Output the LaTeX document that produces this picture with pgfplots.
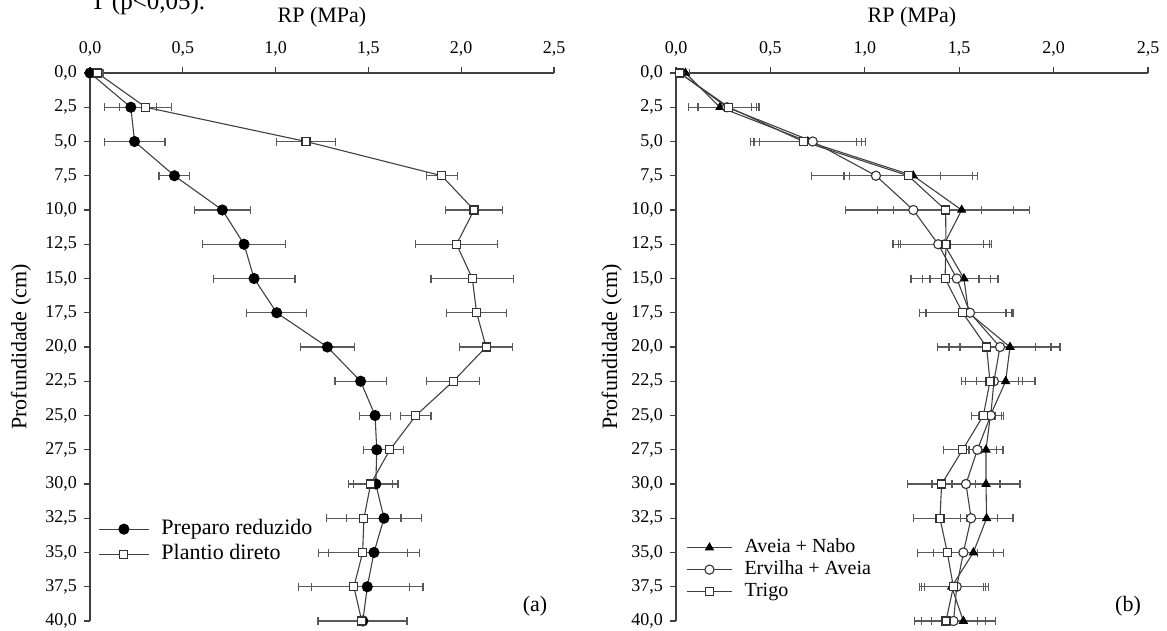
\documentclass[border=0pt]{standalone}
\usepackage{fontspec}
\setmainfont{Liberation Serif}
\usepackage{pgfplots}
\pgfplotsset{compat=1.18}

\pgfplotsset{
  rpaxis/.style={
    scale only axis, height=274pt,
    axis x line=top, axis y line=left,
    axis line style={-, black!75, line width=0.7pt},
    xmin=0, xmax=2.5, ymin=0, ymax=40, y dir=reverse,
    xtick={0,0.5,1,1.5,2,2.5},
    ytick={0,2.5,5,7.5,10,12.5,15,17.5,20,22.5,25,27.5,30,32.5,35,37.5,40},
    tick align=outside, major tick length=3pt,
    tick style={black!75, line width=0.6pt},
    /pgf/number format/.cd, fixed, fixed zerofill, precision=1, use comma, assume math mode=true,
    /pgfplots/.cd,
    tick label style={font=\fontsize{9}{10}\selectfont},
    xticklabel style={yshift=2pt},
    xlabel={RP (MPa)}, ylabel={Profundidade (cm)},
    label style={font=\fontsize{11}{12}\selectfont},
    xlabel style={at={(axis description cs:0.5,1)}, anchor=center, yshift=28pt},
    clip=false,
    legend cell align=left,
    legend image code/.code={\draw[mark repeat=2,mark phase=2,#1] plot coordinates {(0pt,0pt)(12.5pt,0pt)(25pt,0pt)};},
  },
  serie/.style={black!75, line width=0.55pt,
    error bars/.cd, x dir=both, x explicit,
    error bar style={black!65, line width=0.6pt},
    error mark options={rotate=90, black!65, mark size=2pt, line width=0.6pt},
    /pgfplots/.cd},
}

\begin{document}
\begin{tikzpicture}

% (a) sistemas de preparo
\begin{axis}[rpaxis, at={(45pt,5pt)}, anchor=south west, width=232pt,
  ylabel style={at={(axis description cs:-0.149,0.5)}, anchor=center},
  legend style={at={(axis cs:0.043,32.5)}, anchor=north west, draw=none, fill=none,
    inner sep=0pt, row sep=2pt, column sep=6pt,
    nodes={inner sep=0pt, text height=8pt, text depth=2.5pt, font=\fontsize{11}{12}\selectfont}},
]
\addplot[serie, mark=*, mark options={solid, fill=black, draw=black, mark size=2.5pt}]
  coordinates {
  (0.000,0) +- (0,0)
  (0.220,2.5) +- (0.140,0)
  (0.240,5) +- (0.164,0)
  (0.455,7.5) +- (0.083,0)
  (0.713,10) +- (0.152,0)
  (0.830,12.5) +- (0.224,0)
  (0.884,15) +- (0.220,0)
  (1.006,17.5) +- (0.162,0)
  (1.279,20) +- (0.144,0)
  (1.458,22.5) +- (0.138,0)
  (1.536,25) +- (0.083,0)
  (1.545,27.5) +- (0.072,0)
  (1.540,30) +- (0.119,0)
  (1.584,32.5) +- (0.200,0)
  (1.530,35) +- (0.245,0)
  (1.494,37.5) +- (0.300,0)
  (1.470,40) +- (0.240,0)
  };
\addlegendentry{Preparo reduzido}
\addplot[serie, mark=square*, mark options={solid, fill=white, draw=black!80, mark size=2pt}]
  coordinates {
  (0.040,0) +- (0.030,0)
  (0.300,2.5) +- (0.140,0)
  (1.164,5) +- (0.160,0)
  (1.895,7.5) +- (0.083,0)
  (2.069,10) +- (0.153,0)
  (1.975,12.5) +- (0.221,0)
  (2.060,15) +- (0.223,0)
  (2.083,17.5) +- (0.162,0)
  (2.134,20) +- (0.142,0)
  (1.957,22.5) +- (0.142,0)
  (1.756,25) +- (0.081,0)
  (1.616,27.5) +- (0.072,0)
  (1.512,30) +- (0.119,0)
  (1.476,32.5) +- (0.200,0)
  (1.469,35) +- (0.240,0)
  (1.422,37.5) +- (0.300,0)
  (1.464,40) +- (0.240,0)
  };
\addlegendentry{Plantio direto}
\end{axis}

% (b) culturas de cobertura
\begin{axis}[rpaxis, at={(338pt,5pt)}, anchor=south west, width=236pt,
  ylabel style={at={(axis description cs:-0.136,0.5)}, anchor=center},
  legend style={at={(axis cs:0.053,33.9)}, anchor=north west, draw=none, fill=none,
    inner sep=0pt, row sep=1.2pt, column sep=6pt,
    nodes={inner sep=0pt, text height=7.5pt, text depth=2.3pt, font=\fontsize{10}{11}\selectfont}},
  legend image code/.code={\draw[mark repeat=2,mark phase=2,#1] plot coordinates {(0pt,0pt)(11.25pt,0pt)(22.5pt,0pt)};},
]
\addplot[serie, mark=triangle*, mark options={solid, fill=black, draw=black, mark size=2.2pt}]
  coordinates {
  (0.050,0) +- (0.020,0)
  (0.233,2.5) +- (0.165,0)
  (0.698,5) +- (0.285,0)
  (1.257,7.5) +- (0.340,0)
  (1.513,10) +- (0.360,0)
  (1.420,12.5) +- (0.240,0)
  (1.525,15) +- (0.180,0)
  (1.550,17.5) +- (0.230,0)
  (1.769,20) +- (0.265,0)
  (1.746,22.5) +- (0.155,0)
  (1.665,25) +- (0.060,0)
  (1.642,27.5) +- (0.090,0)
  (1.642,30) +- (0.180,0)
  (1.645,32.5) +- (0.140,0)
  (1.575,35) +- (0.160,0)
  (1.460,37.5) +- (0.170,0)
  (1.522,40) +- (0.170,0)
  };
\addlegendentry{Aveia + Nabo}
\addplot[serie, mark=*, mark options={solid, fill=white, draw=black!80, mark size=2.3pt}]
  coordinates {
  (0.020,0) +- (0.020,0)
  (0.270,2.5) +- (0.155,0)
  (0.724,5) +- (0.280,0)
  (1.059,7.5) +- (0.340,0)
  (1.257,10) +- (0.360,0)
  (1.389,12.5) +- (0.240,0)
  (1.487,15) +- (0.180,0)
  (1.557,17.5) +- (0.230,0)
  (1.716,20) +- (0.270,0)
  (1.684,22.5) +- (0.150,0)
  (1.667,25) +- (0.066,0)
  (1.596,27.5) +- (0.100,0)
  (1.536,30) +- (0.180,0)
  (1.563,32.5) +- (0.140,0)
  (1.522,35) +- (0.160,0)
  (1.487,37.5) +- (0.170,0)
  (1.470,40) +- (0.170,0)
  };
\addlegendentry{Ervilha + Aveia}
\addplot[serie, mark=square*, mark options={solid, fill=white, draw=black!80, mark size=2pt}]
  coordinates {
  (0.020,0) +- (0.020,0)
  (0.280,2.5) +- (0.160,0)
  (0.674,5) +- (0.280,0)
  (1.230,7.5) +- (0.340,0)
  (1.428,10) +- (0.360,0)
  (1.430,12.5) +- (0.240,0)
  (1.425,15) +- (0.180,0)
  (1.518,17.5) +- (0.230,0)
  (1.645,20) +- (0.260,0)
  (1.663,22.5) +- (0.150,0)
  (1.628,25) +- (0.062,0)
  (1.518,27.5) +- (0.100,0)
  (1.407,30) +- (0.180,0)
  (1.398,32.5) +- (0.140,0)
  (1.437,35) +- (0.160,0)
  (1.469,37.5) +- (0.170,0)
  (1.430,40) +- (0.165,0)
  };
\addlegendentry{Trigo}
\end{axis}

\node[font=\fontsize{11}{12}\selectfont] at (267.5pt,12.5pt) {(a)};
\node[font=\fontsize{11}{12}\selectfont] at (564pt,12.5pt) {(b)};
% fragmento da legenda da figura, cortado na margem superior
\node[anchor=base west, inner sep=0pt, font=\fontsize{12.5}{14}\selectfont] at (45pt,310.5pt) {T (p<0,05).};

\pgfresetboundingbox
\path[use as bounding box] (0,0) rectangle (583.5pt,315.5pt);
\end{tikzpicture}
\end{document}
